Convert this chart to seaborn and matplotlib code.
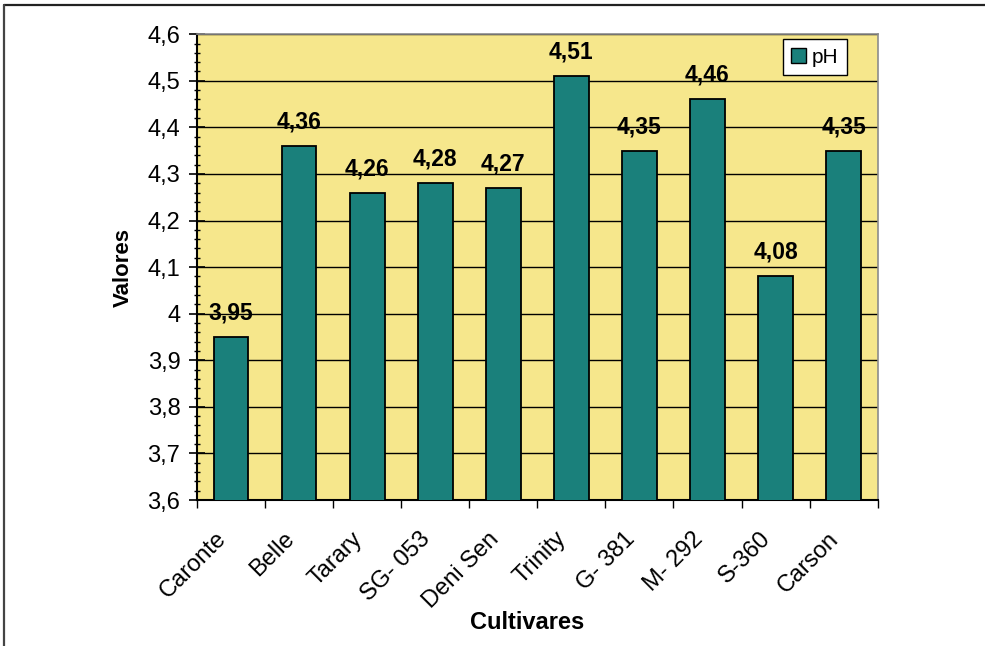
import matplotlib
matplotlib.use("Agg")
import matplotlib.pyplot as plt
import matplotlib.ticker as mticker
import matplotlib.transforms as mtransforms
from matplotlib.patches import Patch
from matplotlib.lines import Line2D
import seaborn as sns
import pandas as pd

cultivares = ["Caronte", "Belle", "Tarary", "SG- 053", "Deni Sen",
              "Trinity", "G- 381", "M- 292", "S-360", "Carson"]
ph = [3.95, 4.36, 4.26, 4.28, 4.27, 4.51, 4.35, 4.46, 4.08, 4.35]
y_ticks = [3.6, 3.7, 3.8, 3.9, 4.0, 4.1, 4.2, 4.3, 4.4, 4.5, 4.6]

TEAL = "#1A807B"
YELLOW = "#F6E78C"

sns.set_theme(style="white")
plt.rcParams["font.family"] = ["Liberation Sans", "DejaVu Sans"]
plt.rcParams.update({"text.color": "black", "axes.labelcolor": "black",
                     "xtick.color": "black", "ytick.color": "black"})

df = pd.DataFrame({"Cultivares": cultivares, "pH": ph})

fig = plt.figure(figsize=(9.85, 6.46), dpi=100)
ax = fig.add_axes([0.2, 0.226, 0.691, 0.721])
ax.set_facecolor(YELLOW)

sns.barplot(data=df, x="Cultivares", y="pH", color=TEAL, saturation=1,
            width=0.51, edgecolor="black", linewidth=1.3, ax=ax, zorder=3)

ax.set_ylim(3.6, 4.6)
ax.set_xlim(-0.5, len(cultivares) - 0.5)

# y axis: comma decimal labels, crossing ticks, minor ticks
ax.set_yticks(y_ticks)
ax.yaxis.set_major_formatter(mticker.FuncFormatter(
    lambda v, p: (f"{v:.1f}".rstrip("0").rstrip(".")).replace(".", ",")))
ax.yaxis.set_minor_locator(mticker.MultipleLocator(0.02))
ax.tick_params(axis="y", which="major", direction="inout", length=12,
               width=1.2, color="black", labelcolor="black", left=True,
               labelsize=17, pad=6)
ax.tick_params(axis="y", which="minor", direction="inout", length=5,
               width=1.0, color="black", left=True)
ax.grid(axis="y", which="major", color="black", linewidth=1.0, zorder=1)
ax.set_axisbelow(True)

# x axis: ticks at category boundaries
ax.set_xticks(range(len(cultivares)))
ax.xaxis.set_minor_locator(mticker.FixedLocator(
    [i - 0.5 for i in range(len(cultivares) + 1)]))
ax.tick_params(axis="x", which="major", length=0, pad=20, labelcolor="black")
ax.tick_params(axis="x", which="minor", direction="out", length=6,
               width=1.0, color="black", bottom=True)
ax.set_xticklabels(cultivares, rotation=45, ha="right", va="top",
                   rotation_mode="anchor", fontsize=17, color="black")
shift = mtransforms.ScaledTranslation(-16 / 100, 0, fig.dpi_scale_trans)
for lbl in ax.get_xticklabels():
    lbl.set_transform(lbl.get_transform() + shift)

for side in ["left", "bottom"]:
    ax.spines[side].set_color("black")
    ax.spines[side].set_linewidth(1.5)
for side in ["top", "right"]:
    ax.spines[side].set_color("#8c8c8c")
    ax.spines[side].set_linewidth(1.2)

# value labels above bars
for i, v in enumerate(ph):
    ax.annotate(f"{v:.2f}".replace(".", ","), xy=(i, v), xytext=(0, 9),
                textcoords="offset points", ha="center", va="bottom",
                fontsize=16.5, fontweight="bold", color="black", zorder=5)

ax.set_ylabel("Valores", fontsize=16, fontweight="bold", labelpad=10,
              color="black")
ax.set_xlabel("Cultivares", fontsize=17, fontweight="bold", color="black")
ax.xaxis.set_label_coords(0.4846, -0.264)
ax.xaxis.label.set_va("center")

leg = ax.legend(handles=[Patch(facecolor=TEAL, edgecolor="black", label="pH")],
                loc="upper right", bbox_to_anchor=(0.955, 0.989),
                borderaxespad=0, fontsize=15, frameon=True, fancybox=False,
                handlelength=0.7, handleheight=0.7, handletextpad=0.3,
                borderpad=0.4)
leg.get_frame().set_edgecolor("black")
leg.get_frame().set_facecolor("white")
leg.get_frame().set_linewidth(1.0)
leg.get_frame().set_alpha(1)
for t in leg.get_texts():
    t.set_color("black")

# outer frame lines (top and left)
fig.add_artist(Line2D([0.0045, 1.0], [0.9925, 0.9925], transform=fig.transFigure,
                      color="#222222", linewidth=1.6))
fig.add_artist(Line2D([0.0045, 0.0045], [0.0, 0.9925], transform=fig.transFigure,
                      color="#444444", linewidth=1.6))

fig.savefig("out.png", dpi=100)
